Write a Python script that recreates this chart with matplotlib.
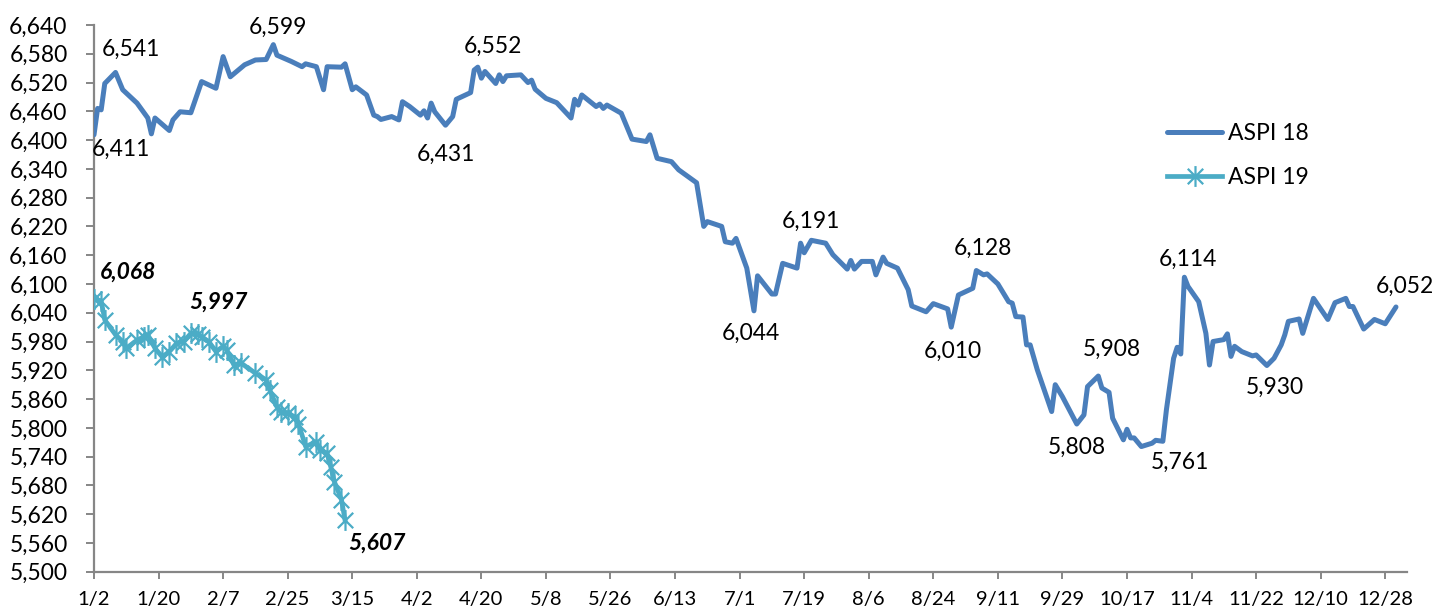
import datetime as dt
import matplotlib
matplotlib.use("Agg")
import matplotlib.pyplot as plt
from matplotlib.path import Path
from matplotlib.ticker import FuncFormatter, FixedLocator
import pandas as pd

# ASPI 2018 daily closes (month/day)
aspi18_dates = [
    "1/2", "1/3", "1/4", "1/5", "1/8", "1/10", "1/14", "1/17", "1/18", "1/19",
    "1/23", "1/24", "1/26", "1/29", "2/1", "2/5", "2/7", "2/9", "2/13", "2/16",
    "2/19", "2/21", "2/22", "2/26", "3/1", "3/2", "3/5", "3/7", "3/8", "3/12",
    "3/13", "3/15", "3/16", "3/19", "3/21", "3/22", "3/23", "3/26", "3/28", "3/29",
    "3/31", "4/3", "4/4", "4/5", "4/6", "4/7", "4/10", "4/12", "4/13", "4/17",
    "4/18", "4/19", "4/20", "4/21", "4/24", "4/25", "4/26", "4/27", "5/1", "5/3",
    "5/4", "5/5", "5/8", "5/11", "5/15", "5/16", "5/17", "5/18", "5/22", "5/23",
    "5/24", "5/25", "5/29", "6/1", "6/5", "6/6", "6/8", "6/12", "6/14", "6/19",
    "6/21", "6/22", "6/26", "6/27", "6/29", "6/30", "7/3", "7/5", "7/6", "7/10",
    "7/11", "7/13", "7/17", "7/18", "7/19", "7/21", "7/25", "7/27", "7/31", "8/1",
    "8/2", "8/4", "8/7", "8/8", "8/10", "8/11", "8/14", "8/17", "8/18", "8/22",
    "8/24", "8/28", "8/29", "8/31", "9/4", "9/5", "9/7", "9/8", "9/11", "9/14",
    "9/15", "9/16", "9/18", "9/19", "9/20", "9/22", "9/26", "9/27", "9/29", "10/3",
    "10/5", "10/6", "10/9", "10/10", "10/12", "10/13", "10/16", "10/17", "10/18", "10/19",
    "10/21", "10/24", "10/25", "10/27", "10/28", "10/30", "10/31", "11/1", "11/2", "11/3",
    "11/6", "11/8", "11/9", "11/10", "11/13", "11/14", "11/15", "11/16", "11/18", "11/21",
    "11/22", "11/25", "11/27", "11/29", "11/30", "12/1", "12/4", "12/5", "12/8", "12/12",
    "12/14", "12/17", "12/18", "12/19", "12/22", "12/25", "12/28", "12/31",
]
aspi18_values = [
    6411, 6466, 6463, 6518, 6541, 6505, 6477, 6446, 6413, 6446,
    6420, 6442, 6459, 6457, 6522, 6508, 6574, 6532, 6557, 6567,
    6568, 6599, 6577, 6564, 6553, 6559, 6553, 6505, 6553, 6552,
    6559, 6505, 6511, 6494, 6452, 6449, 6443, 6449, 6442, 6480,
    6470, 6452, 6461, 6446, 6477, 6459, 6431, 6449, 6485, 6499,
    6546, 6552, 6529, 6543, 6518, 6536, 6522, 6534, 6536, 6520,
    6525, 6506, 6487, 6478, 6446, 6485, 6473, 6494, 6470, 6475,
    6466, 6473, 6456, 6402, 6397, 6411, 6362, 6355, 6338, 6311,
    6220, 6230, 6220, 6188, 6185, 6195, 6133, 6044, 6117, 6079,
    6079, 6143, 6133, 6185, 6165, 6191, 6185, 6161, 6131, 6149,
    6131, 6147, 6147, 6119, 6156, 6143, 6133, 6088, 6054, 6042,
    6059, 6048, 6010, 6077, 6091, 6128, 6119, 6121, 6100, 6063,
    6060, 6032, 6031, 5973, 5973, 5921, 5834, 5890, 5865, 5808,
    5827, 5886, 5908, 5883, 5874, 5820, 5775, 5797, 5779, 5779,
    5761, 5768, 5774, 5772, 5838, 5945, 5968, 5954, 6114, 6095,
    6063, 5997, 5931, 5980, 5984, 5996, 5949, 5970, 5959, 5950,
    5952, 5930, 5945, 5973, 5994, 6022, 6027, 5997, 6070, 6026,
    6061, 6070, 6053, 6053, 6006, 6026, 6017, 6052,
]

# ASPI 2019 year to date
aspi19_dates = [
    "1/2", "1/4", "1/5", "1/8", "1/10", "1/11", "1/14", "1/16", "1/17", "1/19",
    "1/21", "1/23", "1/25", "1/27", "1/29", "1/31", "2/1", "2/3", "2/5", "2/7",
    "2/8", "2/10", "2/12", "2/16", "2/19", "2/20", "2/22", "2/23", "2/25", "2/27",
    "2/28", "3/2", "3/5", "3/6", "3/8", "3/9", "3/10", "3/12", "3/13",
]
aspi19_values = [
    6068, 6065, 6025, 5994, 5980, 5966, 5983, 5990, 5994, 5966,
    5948, 5959, 5976, 5980, 5997, 5995, 5990, 5980, 5959, 5970,
    5963, 5931, 5935, 5914, 5900, 5879, 5844, 5834, 5830, 5823,
    5809, 5761, 5771, 5754, 5747, 5719, 5688, 5650, 5607,
]

y_ticks = list(range(5500, 6641, 60))

# labelled points and where their text sits (pixels from the point)
aspi18_label_dates = ["1/2", "1/8", "2/21", "4/10", "4/19", "7/5", "7/21", "8/29",
                      "9/5", "10/3", "10/9", "10/21", "11/2", "11/25", "12/31"]
aspi18_label_offsets = [(27, -15), (15, 23), (5, 17), (0, -29), (15, 21), (-3, -23),
                        (0, 19), (2, -24), (7, 22), (0, -23), (14, 27), (39, -16),
                        (4, 18), (8, -22), (9, 21)]
aspi19_label_dates = ["1/2", "1/29", "3/13"]
aspi19_label_offsets = [(34, 27), (28, 31), (32, -23)]

BLUE = "#4a7ebb"
TEAL = "#4bacc6"
GREY = "#868686"


def to_dates(md_list):
    out = []
    for s in md_list:
        m, d = s.split("/")
        out.append(dt.datetime(2018, int(m), int(d)))
    return out


plt.rcParams["font.family"] = ["Lato", "DejaVu Sans"]

fig = plt.figure(figsize=(14.44, 6.12), dpi=100)
ax = fig.add_axes([0.0651, 0.0658, 0.9742 - 0.0651, 0.9592 - 0.0658])

x18 = to_dates(aspi18_dates)
x19 = to_dates(aspi19_dates)

star = Path([(-1, -1), (1, 1), (-1, 1), (1, -1), (0, -1.35), (0, 1.35)],
            [Path.MOVETO, Path.LINETO, Path.MOVETO, Path.LINETO, Path.MOVETO, Path.LINETO])

ax.plot(x18, aspi18_values, color=BLUE, lw=3.6, solid_joinstyle="round",
        solid_capstyle="round", label="ASPI 18", zorder=3)
ax.plot(x19, aspi19_values, color=TEAL, lw=3.4, marker=star, ms=15, mew=1.6,
        mec=TEAL, mfc="none", solid_joinstyle="round", label="ASPI 19", zorder=3)

for md, (dx, dy) in zip(aspi18_label_dates, aspi18_label_offsets):
    i = aspi18_dates.index(md)
    ax.annotate(f"{aspi18_values[i]:,}", (x18[i], aspi18_values[i]), xytext=(dx, dy),
                textcoords="offset pixels", ha="center", va="center", fontsize=16.5,
                color="black")
for md, (dx, dy) in zip(aspi19_label_dates, aspi19_label_offsets):
    i = aspi19_dates.index(md)
    ax.annotate(f"{aspi19_values[i]:,}", (x19[i], aspi19_values[i]), xytext=(dx, dy),
                textcoords="offset pixels", ha="center", va="center", fontsize=16.5,
                fontweight="bold", fontstyle="italic", color="black")

# axes
ax.set_ylim(5500, 6640)
ax.yaxis.set_major_locator(FixedLocator(y_ticks))
ax.yaxis.set_major_formatter(FuncFormatter(lambda v, p: f"{int(v):,}"))
ticks = pd.date_range("2018-01-02", periods=21, freq="18D")
ax.set_xticks(ticks)
ax.set_xticklabels([f"{t.month}/{t.day}" for t in ticks])
ax.set_xlim(dt.datetime(2018, 1, 2), dt.datetime(2019, 1, 3))

for side in ("top", "right"):
    ax.spines[side].set_visible(False)
for side in ("left", "bottom"):
    ax.spines[side].set_color(GREY)
    ax.spines[side].set_linewidth(1.6)
ax.tick_params(axis="y", length=6, width=1.4, color=GREY, pad=13, labelsize=16.5)
ax.tick_params(axis="x", length=5, width=1.4, color=GREY, pad=9, labelsize=14.5)

ax.legend(loc="upper left", bbox_to_anchor=(1167 / 1444, 1 - 123 / 612),
          bbox_transform=fig.transFigure, frameon=False, fontsize=16.5,
          handlelength=2.4, handletextpad=0.25, labelspacing=1.0,
          borderpad=0, borderaxespad=0)

fig.savefig("out.png", dpi=100)
